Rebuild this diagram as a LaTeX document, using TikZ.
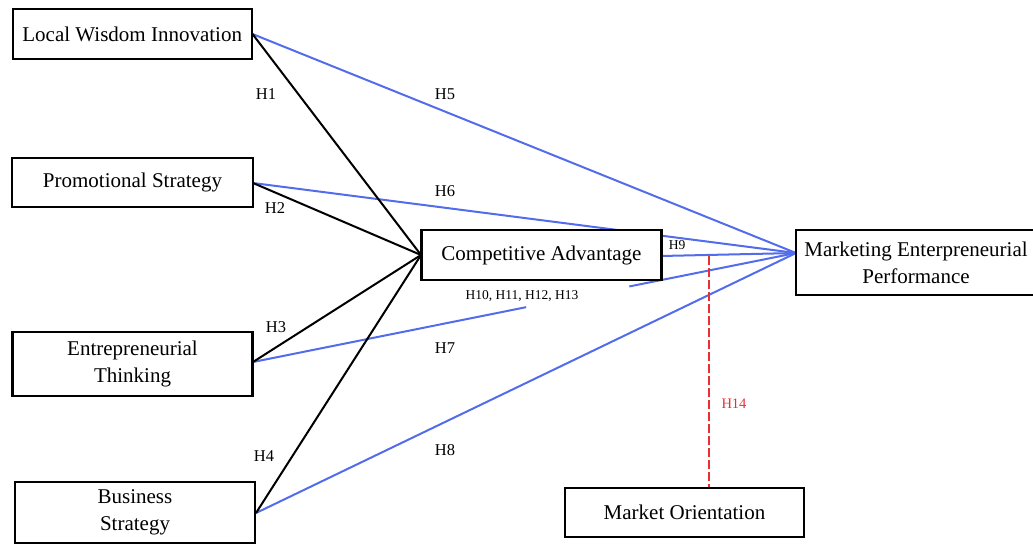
\documentclass[tikz,border=0pt]{standalone}
\usepackage{fontspec}
\setmainfont{Liberation Serif}
\usetikzlibrary{calc}
\definecolor{pathblue}{RGB}{82,108,235}
\definecolor{pathred}{RGB}{232,48,52}
\tikzset{
  boxnode/.style={draw=black, line width=2.2pt, fill=white, align=center, inner sep=0pt,
    font=\fontsize{21}{27}\selectfont},
  blk/.style={draw=black, line width=2pt},
  blu/.style={draw=pathblue, line width=2pt},
  hlab/.style={font=\fontsize{16.5}{18}\selectfont, inner sep=1pt},
  slab/.style={font=\fontsize{13.5}{15}\selectfont, inner sep=1pt},
}
\begin{document}
\begin{tikzpicture}[x=1pt,y=-1pt]
\useasboundingbox (0,0) rectangle (1033,544);
% anchor points of the connectors
\coordinate (mepin) at (796,253);
\coordinate (cain) at (421,255);
\coordinate (lwiout) at (252.5,34);
\coordinate (psout) at (253,183);
\coordinate (etout) at (253,362);
\coordinate (bsout) at (256,513);
\coordinate (caout) at (661,256);

\draw[blu] (lwiout) -- (mepin);
\draw[blu] (psout) -- (mepin);
\draw[blu] (etout) -- ($(etout)!0.503!(mepin)$) coordinate (g1);
\draw[blu] ($(etout)!0.693!(mepin)$) coordinate (g2) -- (mepin);
\draw[blu] (bsout) -- (mepin);
\draw[blu] (caout) -- (mepin);

\draw[blk] (lwiout) -- (cain);
\draw[blk] (psout) -- (cain);
\draw[blk] (etout) -- (cain);
\draw[blk] (bsout) -- (cain);

\coordinate (modtop) at (709,256);
\draw[draw=pathred, line width=2pt, dash pattern=on 9pt off 3pt] (modtop) -- (709,488);

% boxes
\node[boxnode, minimum width=239pt, minimum height=50pt] (LWI) at (132.2,34.3) {Local Wisdom Innovation};
\node[boxnode, minimum width=241pt, minimum height=49pt] (PS) at (132.5,182.5) {Promotional Strategy};
\node[boxnode, minimum width=240pt, minimum height=64pt] (ET) at (132.5,364) {Entrepreneurial\\Thinking};
\node[boxnode, minimum width=240pt, minimum height=61pt] (BS) at (135,512.5) {Business\\Strategy};
\node[boxnode, minimum width=240pt, minimum height=50pt] (CA) at (541.5,255) {Competitive Advantage};
\node[boxnode, minimum width=240pt, minimum height=65pt] (MEP) at (916,262.5) {Marketing Enterpreneurial\\Performance};
\node[boxnode, minimum width=239pt, minimum height=49pt] (MO) at (684.5,512.5) {Market Orientation};

% labels
\node[hlab] (h1) at (266,94) {H1};
\node[hlab] (h2) at (275,208) {H2};
\node[hlab] (h3) at (276,327) {H3};
\node[hlab] (h4) at (264,456) {H4};
\node[hlab] (h5) at (445,94) {H5};
\node[hlab] (h6) at (445,191) {H6};
\node[hlab] (h7) at (445,348) {H7};
\node[hlab] (h8) at (445,450) {H8};
\node[slab] (h9) at (677,245) {H9};
\node[slab] (h10) at (522,296) {H10, H11, H12, H13};
\node[font=\fontsize{14.5}{16}\selectfont, text=pathred, inner sep=1pt] (h14) at (734,404) {H14};
\end{tikzpicture}
\end{document}
